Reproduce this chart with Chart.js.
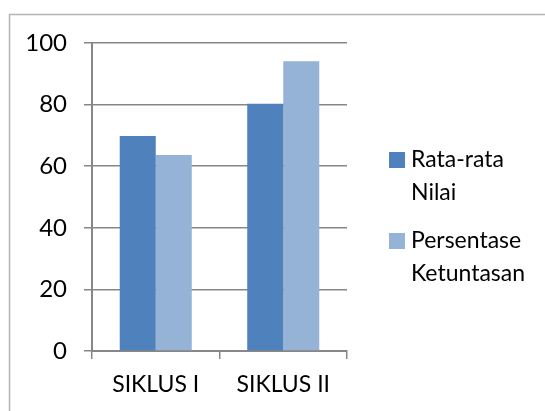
<!DOCTYPE html>
<html lang="id">
<head>
<meta charset="utf-8" />
<title>Siklus</title>
<script src="https://cdn.jsdelivr.net/npm/chart.js@4.4.0/dist/chart.umd.min.js"></script>
<style>
  html, body { margin: 0; padding: 0; background: #fff; }
  #wrap { position: absolute; left: 0; top: 0; width: 545px; height: 411px; }
</style>
</head>
<body>
<div id="wrap"><canvas id="myChart" width="545" height="411"></canvas></div>
<script>
var categories = ["SIKLUS I", "SIKLUS II"];
var seriesNames = [["Rata-rata", "Nilai"], ["Persentase", "Ketuntasan"]];
var rataRata = [69.8, 80.3];
var persentase = [63.6, 94.1];
var yTicks = [0, 20, 40, 60, 80, 100];
var colors = ['#4F81BD', '#95B3D7'];
var fontFamily = 'Lato';

// light frame around the chart, as in the original picture
var frame = {
    id: 'frame',
    beforeDraw: function (chart) {
        var c = chart.ctx;
        c.save();
        c.strokeStyle = '#b4b4b4';
        c.lineWidth = 1.5;
        c.beginPath();
        c.moveTo(9.5, 420);
        c.lineTo(9.5, 14.5);
        c.lineTo(560, 14.5);
        c.stroke();
        c.restore();
    }
};

// the built-in legend is capped in width, so draw the two wrapped entries here
var sideLegend = {
    id: 'sideLegend',
    afterDraw: function (chart) {
        var c = chart.ctx;
        var x = chart.chartArea.right + 42;
        var lineH = 33;
        var top = 152;
        c.save();
        c.font = '23px ' + fontFamily;
        c.textBaseline = 'middle';
        c.fillStyle = '#000';
        chart.data.datasets.forEach(function (ds, i) {
            var y = top + i * 81;
            c.fillStyle = ds.backgroundColor;
            c.fillRect(x, y, 16, 16);
            c.fillStyle = '#000';
            seriesNames[i].forEach(function (line, j) {
                c.fillText(line, x + 22, y + 8 + j * lineH);
            });
        });
        c.restore();
    }
};

var ctx = document.getElementById("myChart").getContext("2d");
var myChart = new Chart(ctx, {
    type: 'bar',
    data: {
        labels: categories,
        datasets: [{
            label: seriesNames[0].join(' '),
            data: rataRata,
            backgroundColor: colors[0],
            borderWidth: 0
        }, {
            label: seriesNames[1].join(' '),
            data: persentase,
            backgroundColor: colors[1],
            borderWidth: 0
        }]
    },
    options: {
        responsive: false,
        animation: false,
        layout: { padding: { left: 0, top: 43, right: 198, bottom: 0 } },
        datasets: { bar: { barPercentage: 1, categoryPercentage: 0.565 } },
        plugins: {
            tooltip: { enabled: false },
            legend: { display: false }
        },
        scales: {
            x: {
                afterFit: function (scale) { scale.height = 60; },
                grid: {
                    offset: true,
                    drawOnChartArea: false,
                    drawTicks: true,
                    tickLength: 8,
                    color: '#878787',
                    lineWidth: 1.5
                },
                border: { color: '#878787', width: 2 },
                ticks: {
                    color: '#000',
                    padding: 12,
                    font: { family: fontFamily, size: 23 }
                }
            },
            y: {
                min: 0,
                max: 100,
                afterFit: function (scale) { scale.width = 92; },
                afterBuildTicks: function (scale) {
                    scale.ticks = yTicks.map(function (v) { return { value: v }; });
                },
                grid: {
                    color: '#878787',
                    lineWidth: 1.5,
                    tickLength: 8
                },
                border: { color: '#878787', width: 2 },
                ticks: {
                    color: '#000',
                    padding: 17,
                    font: { family: fontFamily, size: 24 }
                }
            }
        }
    },
    plugins: [frame, sideLegend]
});
</script>
</body>
</html>
